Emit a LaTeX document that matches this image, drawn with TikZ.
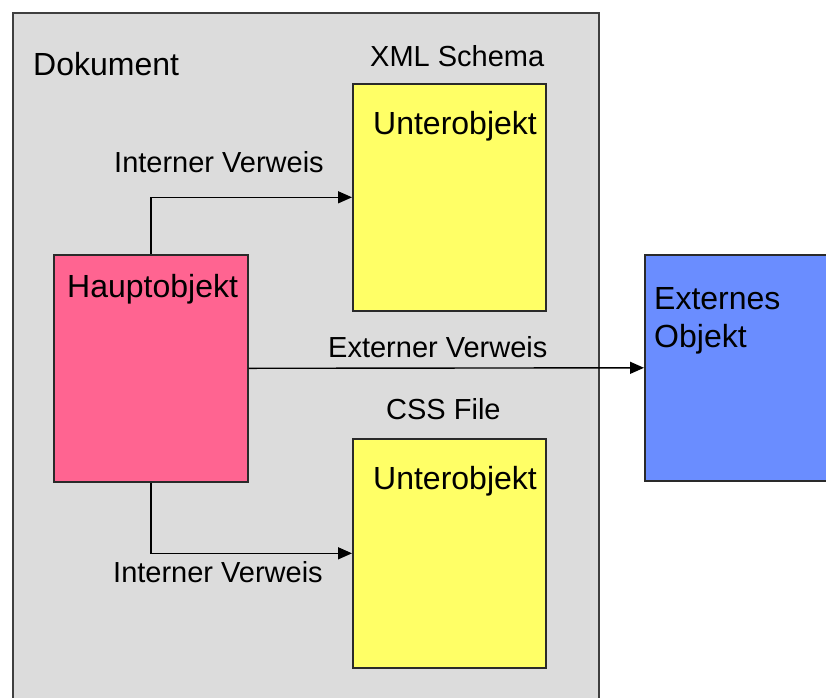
\documentclass[tikz,border=0pt]{standalone}
\usepackage{fontspec}
\setmainfont{Liberation Sans}
\usetikzlibrary{arrows.meta}
\definecolor{docgray}{HTML}{DCDCDC}
\definecolor{mainpink}{HTML}{FF6491}
\definecolor{subyellow}{HTML}{FFFF66}
\definecolor{extblue}{HTML}{6A8DFF}
\definecolor{edge}{HTML}{2A2A2A}
\tikzset{
  box/.style={draw=edge, line width=1.6pt, rectangle, inner sep=0pt, anchor=north west},
  boxtext/.style={anchor=base west, inner sep=0pt, font=\fontsize{32}{38}\selectfont},
  lbl/.style={anchor=base west, inner sep=0pt, font=\fontsize{29}{34}\selectfont},
  link/.style={draw=black, line width=1.4pt, -{Triangle[length=14pt,width=12pt]}}
}
\begin{document}
\begin{tikzpicture}[x=1pt,y=-1pt]
\useasboundingbox (0,0) rectangle (826,697);
\clip (0,0) rectangle (826,697);
% document frame
\node[box, fill=docgray, draw=edge!90, line width=2pt, minimum width=586pt, minimum height=720pt] (doc) at (12,12) {};
\node[boxtext] (doclbl) at (33,75) {Dokument};
% objects
\node[box, fill=mainpink, minimum width=194pt, minimum height=227pt] (haupt) at (53,254) {};
\node[boxtext] (hauptlbl) at (67,297) {Hauptobjekt};
\node[box, fill=subyellow, minimum width=193pt, minimum height=227pt] (subA) at (352,83) {};
\node[boxtext] (subAlbl) at (373,134) {Unterobjekt};
\node[box, fill=subyellow, minimum width=193pt, minimum height=229pt] (subB) at (352,438) {};
\node[boxtext] (subBlbl) at (373,489) {Unterobjekt};
\node[box, fill=extblue, minimum width=200pt, minimum height=226pt] (ext) at (644,254) {};
\node[boxtext] (extlbl1) at (654,309) {Externes};
\node[boxtext] (extlbl2) at (654,347) {Objekt};
% captions
\node[lbl] (xmllbl) at (370,66) {XML Schema};
\node[lbl] (csslbl) at (386,419) {CSS File};
\node[lbl] (intA) at (114,172) {Interner Verweis};
\node[lbl] (intB) at (113,582) {Interner Verweis};
\node[lbl] (extref) at (328,357) {Externer Verweis};
% references
\draw[link] (haupt.north) |- (subA.west);
\draw[link] (haupt.south) |- (subB.west);
\draw[link] (haupt.east) -- (ext.west);
\end{tikzpicture}
\end{document}
